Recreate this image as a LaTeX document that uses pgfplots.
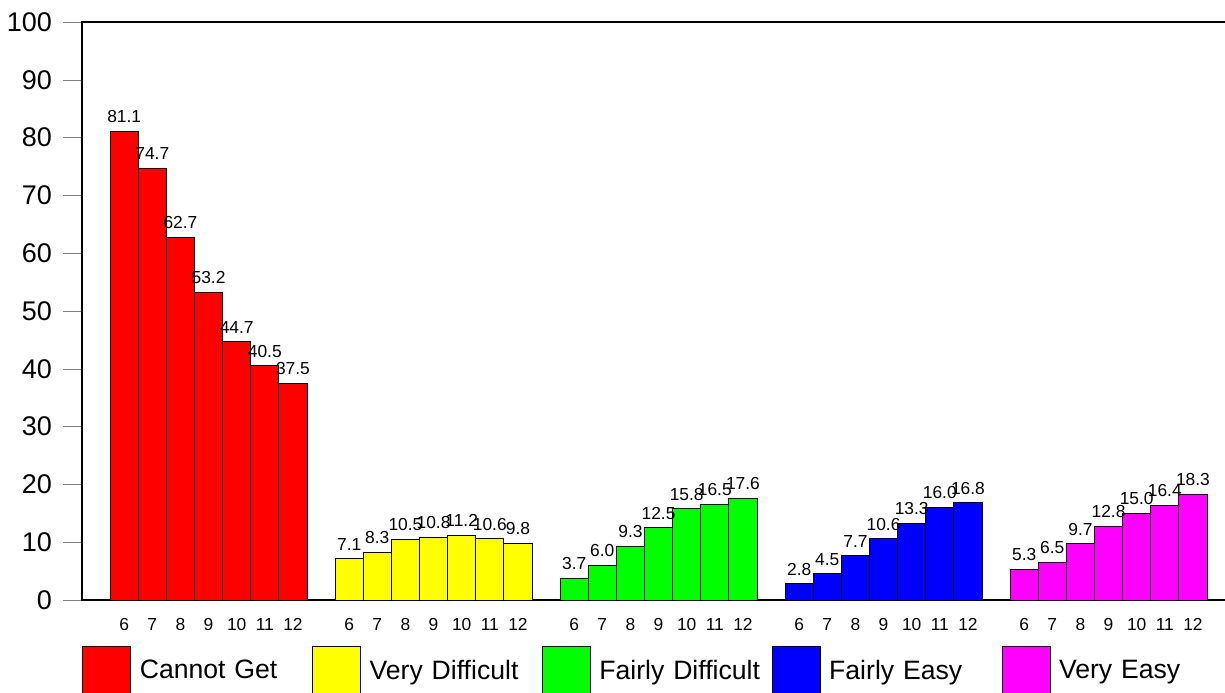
\documentclass[border=0pt]{standalone}
\usepackage{pgfplots}
\pgfplotsset{compat=1.18}
\usepackage{fontspec}
\setmainfont{Liberation Sans}
\usetikzlibrary{calc}

\definecolor{cRed}{RGB}{255,0,0}
\definecolor{cYellow}{RGB}{255,255,0}
\definecolor{cGreen}{RGB}{0,255,0}
\definecolor{cBlue}{RGB}{0,0,255}
\definecolor{cMagenta}{RGB}{255,0,255}

\pgfplotsset{
  agebar/.style={
    ybar, bar width=1, bar shift=0pt,
    draw=black, line width=0.5pt,
    legend image code/.code={\draw[##1,draw=black,line width=0.5pt] (0pt,-12pt) rectangle (24pt,12pt);},
  },
}

\begin{document}
\begin{tikzpicture}
\begin{axis}[
    scale only axis,
    width=573.5pt, height=289pt,
    xmin=0, xmax=40.782,
    ymin=0, ymax=100,
    ytick={0,10,20,30,40,50,60,70,80,90,100},
    xtick={1.5,2.5,3.5,4.5,5.5,6.5,7.5,
           9.5,10.5,11.5,12.5,13.5,14.5,15.5,
           17.5,18.5,19.5,20.5,21.5,22.5,23.5,
           25.5,26.5,27.5,28.5,29.5,30.5,31.5,
           33.5,34.5,35.5,36.5,37.5,38.5,39.5},
    xticklabels={6,7,8,9,10,11,12,6,7,8,9,10,11,12,6,7,8,9,10,11,12,
                 6,7,8,9,10,11,12,6,7,8,9,10,11,12},
    xtick style={draw=none},
    ytick pos=left,
    tick align=outside,
    major tick length=9.5pt,
    axis line style={line width=0.6pt},
    /pgf/number format/assume math mode=true,
    yticklabel style={font=\fontsize{13.5}{16}\selectfont, xshift=-2pt},
    xticklabel style={font=\fontsize{8.7}{10}\selectfont, yshift=4pt},
    nodes near coords={\pgfmathprintnumber[fixed,fixed zerofill,precision=1,assume math mode=true]{\pgfplotspointmeta}},
    every node near coord/.append style={font=\fontsize{8.7}{10}\selectfont, text=black, inner sep=2.5pt, yshift=1.5pt},
    legend columns=5,
    legend style={draw=none, fill=none, inner sep=0pt,
      at={(0,-0.1228)}, anchor=west,
      font=\fontsize{13.3}{16}\selectfont,
      nodes={text width=82pt, align=left, inner sep=4.2pt}},
]

\addplot[agebar, fill=cRed] coordinates {
  (1.5,81.1)(2.5,74.7)(3.5,62.7)(4.5,53.2)(5.5,44.7)(6.5,40.5)(7.5,37.5)};
\addlegendentry{Cannot Get}
\addplot[agebar, fill=cYellow] coordinates {
  (9.5,7.1)(10.5,8.3)(11.5,10.5)(12.5,10.8)(13.5,11.2)(14.5,10.6)(15.5,9.8)};
\addlegendentry{Very Difficult}
\addplot[agebar, fill=cGreen] coordinates {
  (17.5,3.7)(18.5,6.0)(19.5,9.3)(20.5,12.5)(21.5,15.8)(22.5,16.5)(23.5,17.6)};
\addlegendentry{Fairly Difficult}
\addplot[agebar, fill=cBlue] coordinates {
  (25.5,2.8)(26.5,4.5)(27.5,7.7)(28.5,10.6)(29.5,13.3)(30.5,16.0)(31.5,16.8)};
\addlegendentry{Fairly Easy}
\addplot[agebar, fill=cMagenta] coordinates {
  (33.5,5.3)(34.5,6.5)(35.5,9.7)(36.5,12.8)(37.5,15.0)(38.5,16.4)(39.5,18.3)};
\addlegendentry{Very Easy}
\end{axis}
\pgfresetboundingbox
\useasboundingbox ($(current axis.south west)+(-41pt,-46pt)$) rectangle ($(current axis.north east)+(-2pt,11pt)$);
\end{tikzpicture}
\end{document}
